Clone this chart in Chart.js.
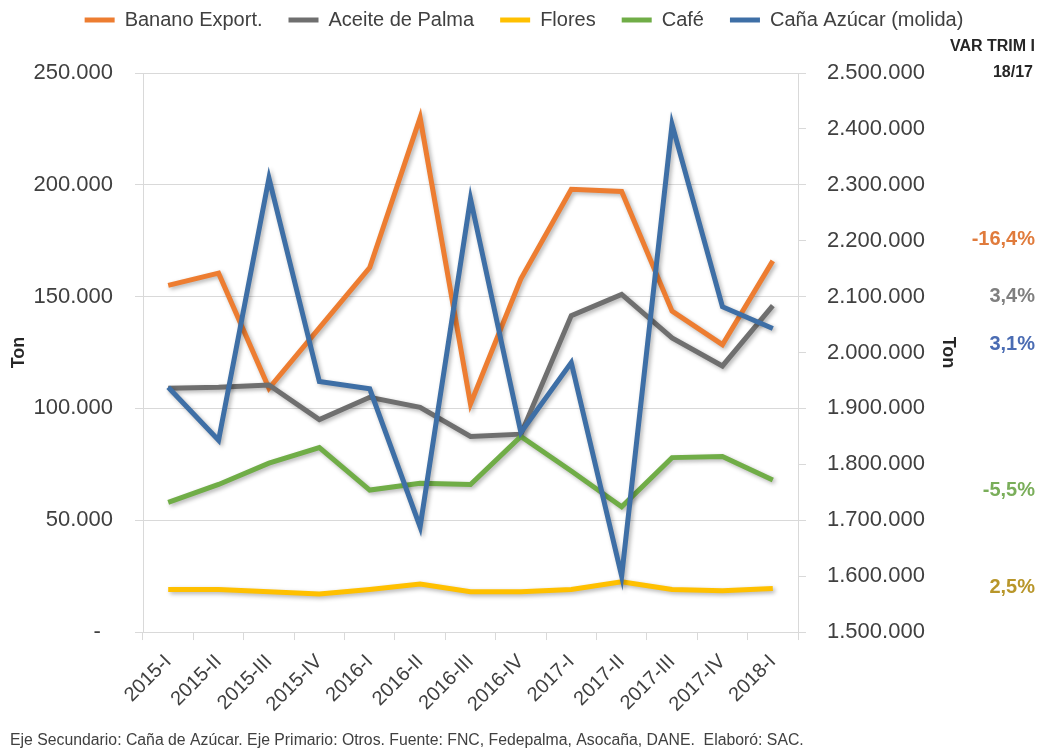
<!DOCTYPE html>
<html><head><meta charset="utf-8">
<script src="https://cdn.jsdelivr.net/npm/chart.js@4.4.1/dist/chart.umd.min.js"></script>
<style>html,body{margin:0;padding:0;background:#fff}#wrap{width:1038px;height:756px}</style>
</head><body><div id="wrap"><canvas id="c" width="1038" height="756"></canvas></div>
<script>
const categories = ['2015-I','2015-II','2015-III','2015-IV','2016-I','2016-II','2016-III','2016-IV','2017-I','2017-II','2017-III','2017-IV','2018-I'];
const seriesNames = ['Banano Export.','Aceite de Palma','Flores','Café','Caña Azúcar (molida)'];
const banano = [155000,160500,109000,136000,163000,230000,102000,158000,198000,197000,143500,128500,166000];
const aceite = [109000,109500,110500,95000,105000,100500,87500,88500,141500,151000,131500,119000,146000];
const flores = [19000,19000,18000,17000,19000,21500,18000,18000,19000,22500,19000,18500,19500];
const cafe   = [58000,66000,75500,82500,63500,66500,66000,87500,72000,56000,78000,78500,68000];
const cana   = [1938000,1843000,2312000,1948000,1935000,1688000,2275000,1857000,1982000,1600000,2408000,2082000,2043000];
const leftAxisRange = [0, 250000, 50000];
const rightAxisRange = [1500000, 2500000, 100000];
const varHeader = ['VAR TRIM I','18/17'];
const varLabels = ['-16,4%','3,4%','3,1%','-5,5%','2,5%'];
const axisTitle = 'Ton';
const footerText = 'Eje Secundario: Caña de Azúcar. Eje Primario: Otros. Fuente: FNC, Fedepalma, Asocaña, DANE.  Elaboró: SAC.';

const colors = ['#ED7D31','#6F6F6F','#FFC000','#70AD47','#3E6FA6'];
const varColors = ['#E07B3C','#7F7F7F','#4A6CB3','#7AAE5A','#B8962A'];
const varAnchors = [175500,150000,128500,63500,20000];
const FONT = '"Liberation Sans", Arial, sans-serif';

function fmt(v){ if (v === 0) return '-  '; return String(Math.round(v)).replace(/\B(?=(\d{3})+(?!\d))/g,'.'); }

const allSeries = [banano, aceite, flores, cafe, cana];
const datasets = allSeries.map((d,i)=>({
  label: seriesNames[i],
  data: d,
  borderColor: colors[i],
  backgroundColor: colors[i],
  borderWidth: 5,
  pointRadius: 0,
  pointHoverRadius: 0,
  tension: 0,
  fill: false,
  yAxisID: i === 4 ? 'y1' : 'y',
  order: 5 - i
}));

const shadowPlugin = {
  id: 'shadow',
  beforeDatasetDraw(chart){ const c = chart.ctx; c.save(); c.shadowColor='rgba(0,0,0,0.3)'; c.shadowBlur=4; c.shadowOffsetX=2; c.shadowOffsetY=2; },
  afterDatasetDraw(chart){ chart.ctx.restore(); }
};
const legendHeightPlugin = {
  id: 'legendH',
  beforeUpdate(chart){
    const lg = chart.legend;
    if (lg && !lg.__patched){ const f = lg.fit.bind(lg); lg.fit = function(){ f(); this.height = 89; }; lg.__patched = true; }
  }
};
const varPlugin = {
  id: 'varText',
  afterDraw(chart){
    const c = chart.ctx, ys = chart.scales.y, xr = chart.width - 3;
    c.save();
    c.textAlign = 'right'; c.textBaseline = 'middle';
    c.fillStyle = '#262626';
    c.font = 'bold 16px ' + FONT;
    c.fillText(varHeader[0], xr, 47);
    c.fillText(varHeader[1], xr - 2, 73);
    c.font = 'bold 20px ' + FONT;
    varLabels.forEach((t,i)=>{ c.fillStyle = varColors[i]; c.fillText(t, xr, ys.getPixelForValue(varAnchors[i])); });
    c.restore();
  }
};

new Chart(document.getElementById('c'), {
  type: 'line',
  data: { labels: categories, datasets },
  plugins: [shadowPlugin, legendHeightPlugin, varPlugin],
  options: {
    responsive: false, animation: false, devicePixelRatio: 1,
    layout: { padding: { top: -16, left: 10, right: 0, bottom: 0 } },
    plugins: {
      legend: {
        position: 'top',
        labels: {
          font: { family: FONT, size: 20 }, color: '#404040',
          usePointStyle: true, pointStyle: 'line', pointStyleWidth: 30, padding: 26,
          sort: (a,b) => a.datasetIndex - b.datasetIndex
        }
      },
      subtitle: {
        display: true, position: 'bottom', align: 'start', text: footerText,
        font: { family: FONT, size: 15.8 }, color: '#404040', padding: { top: 14, bottom: 6 }
      },
      tooltip: { enabled: false }
    },
    scales: {
      x: {
        type: 'category', offset: true,
        grid: { offset: true, drawOnChartArea: false, drawTicks: true, tickLength: 8, color: '#D9D9D9' },
        border: { color: '#D9D9D9' },
        ticks: { maxRotation: 45, minRotation: 45, autoSkip: false, font: { family: FONT, size: 20 }, color: '#404040', padding: 10 },
        afterFit: s => { s.height = 85; }
      },
      y: {
        position: 'left', min: leftAxisRange[0], max: leftAxisRange[1],
        ticks: { stepSize: leftAxisRange[2], callback: v => fmt(v), font: { family: FONT, size: 22 }, color: '#404040', padding: 22 },
        grid: { color: '#D9D9D9', tickLength: 8 },
        border: { color: '#D9D9D9' },
        title: { display: true, text: axisTitle, font: { family: FONT, size: 18, weight: 'bold', lineHeight: 1 }, color: '#262626', padding: 0 },
        afterFit: s => { s.width = 133; }
      },
      y1: {
        position: 'right', min: rightAxisRange[0], max: rightAxisRange[1],
        ticks: { stepSize: rightAxisRange[2], callback: v => fmt(v), font: { family: FONT, size: 22 }, color: '#404040', padding: 21 },
        grid: { drawOnChartArea: false, color: '#D9D9D9', tickLength: 8 },
        border: { color: '#D9D9D9' },
        title: { display: true, text: axisTitle, font: { family: FONT, size: 18, weight: 'bold', lineHeight: 1 }, color: '#262626', padding: { top: 81, bottom: 0 } },
        afterFit: s => { s.width = 240; }
      }
    }
  }
});
</script>
</body></html>
